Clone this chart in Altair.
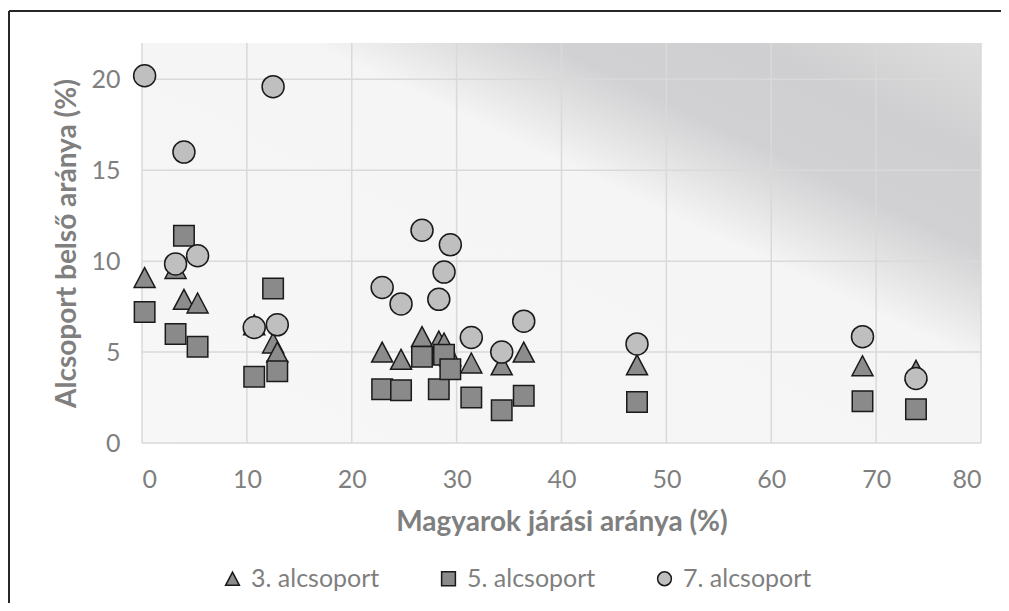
import altair as alt
import pandas as pd

# ---- data ----
x_pct = [0.25, 3.2, 4.0, 5.3, 10.7, 12.5, 12.9, 22.9, 24.7, 26.7, 28.3, 28.8,
         29.4, 31.4, 34.3, 36.4, 47.2, 68.7, 73.8]
s3 = [9.1, 9.6, 7.9, 7.7, 6.5, 5.5, 5.0, 5.0, 4.6, 5.85, 5.6, 5.5,
      4.8, 4.4, 4.3, 5.0, 4.3, 4.25, 4.0]
s5 = [7.2, 6.0, 11.4, 5.3, 3.65, 8.5, 3.95, 2.95, 2.9, 4.75, 2.95, 4.85,
      4.05, 2.5, 1.8, 2.6, 2.25, 2.3, 1.85]
s7 = [20.2, 9.85, 16.0, 10.3, 6.35, 19.6, 6.5, 8.55, 7.65, 11.7, 7.9, 9.4,
      10.9, 5.8, 5.0, 6.7, 5.45, 5.85, 3.55]
series_names = ["3. alcsoport", "5. alcsoport", "7. alcsoport"]
x_ticks = [0, 10, 20, 30, 40, 50, 60, 70, 80]
y_ticks = [0, 5, 10, 15, 20]

rows = []
for name, vals in zip(series_names, [s3, s5, s7]):
    for xv, yv in zip(x_pct, vals):
        rows.append({"x": xv, "y": yv, "s": name})
df = pd.DataFrame(rows)

W, H = 839, 400
FONT = "Lato"
GRAY = "#7f7f7f"
EDGE = "#1a1a1a"

xscale = alt.Scale(domain=[0, 80], nice=False, zero=False)
yscale = alt.Scale(domain=[0, 22], nice=False, zero=False)

xaxis = alt.Axis(values=x_ticks, grid=False, domain=False, ticks=False,
                 labelFont=FONT, labelFontSize=25, labelColor=GRAY, labelPadding=24,
                 titleFont=FONT, titleFontSize=28, titleFontWeight="bold", titleColor=GRAY,
                 titleY=79, titleBaseline="middle")
yaxis = alt.Axis(values=y_ticks, grid=False, domain=False, ticks=False,
                 labelFont=FONT, labelFontSize=25, labelColor=GRAY, labelPadding=22,
                 titleFont=FONT, titleFontSize=28, titleFontWeight="bold", titleColor=GRAY,
                 titleX=-75, titleY=H / 2, titleBaseline="middle", titleAngle=270)
XT = "Magyarok járási aránya (%)"
YT = "Alcsoport belső aránya (%)"

one = pd.DataFrame({"a": [0]})

gradient = {
    "gradient": "linear", "x1": 0, "y1": 1, "x2": 1, "y2": 0,
    "stops": [
        {"offset": 0.0, "color": "#f7f7f7"},
        {"offset": 0.6, "color": "#f5f5f5"},
        {"offset": 0.74, "color": "#d1d1d3"},
        {"offset": 0.86, "color": "#cfcfd1"},
        {"offset": 1.0, "color": "#dedede"},
    ],
}
bg = alt.Chart(one).mark_rect(color=gradient).encode(
    x=alt.value(0), x2=alt.value(W), y=alt.value(0), y2=alt.value(H))

vgrid = alt.Chart(pd.DataFrame({"x": x_ticks})).mark_rule(
    color="#d9d9d9", strokeWidth=1.5).encode(
    x=alt.X("x:Q", scale=xscale, axis=xaxis, title=XT),
    y=alt.value(0), y2=alt.value(H))
hgrid = alt.Chart(pd.DataFrame({"y": y_ticks})).mark_rule(
    color="#d9d9d9", strokeWidth=1.5).encode(
    y=alt.Y("y:Q", scale=yscale, axis=yaxis, title=YT),
    x=alt.value(0), x2=alt.value(W))

tri_path = "M0,-0.95L1,0.95L-1,0.95Z"
fills = ["#8c8c8c", "#8a8a8a", "#bfbfbf"]
shapes = [tri_path, "square", "circle"]
sizes = [441, 420, 484]

legend = alt.Legend(orient="none", legendX=78, legendY=523, direction="horizontal",
                    title=None, labelFont=FONT, labelFontSize=25, labelColor=GRAY,
                    symbolSize=190, symbolStrokeWidth=1.5, gridAlign="all",
                    columnPadding=56, labelOffset=6)

point_layers = []
for name, sz in zip(series_names, sizes):
    point_layers.append(
        alt.Chart(df).transform_filter(alt.datum.s == name).mark_point(
            filled=True, strokeWidth=1.5, opacity=1, size=sz
        ).encode(
            x=alt.X("x:Q", scale=xscale, axis=xaxis, title=XT),
            y=alt.Y("y:Q", scale=yscale, axis=yaxis, title=YT),
            fill=alt.Fill("s:N", scale=alt.Scale(domain=series_names, range=fills),
                          legend=legend),
            shape=alt.Shape("s:N", scale=alt.Scale(domain=series_names, range=shapes),
                            legend=legend),
            stroke=alt.Stroke("s:N", scale=alt.Scale(domain=series_names,
                                                     range=[EDGE, EDGE, EDGE]),
                              legend=legend),
        )
    )

frame_left = alt.Chart(one).mark_rule(color="#262626", strokeWidth=2).encode(
    x=alt.value(-133), y=alt.value(-32), y2=alt.value(H + 220))
frame_top = alt.Chart(one).mark_rule(color="#262626", strokeWidth=2).encode(
    x=alt.value(-133), x2=alt.value(W + 60), y=alt.value(-32))

chart = alt.layer(bg, vgrid, hgrid, *point_layers, frame_left, frame_top).properties(
    width=W, height=H,
    autosize=alt.AutoSizeParams(type="none"),
    padding={"left": 134, "top": 35, "right": 20, "bottom": 160},
).configure(background="white").configure_view(stroke=None)

chart.save("out.html", embed_options={"renderer": "svg", "actions": False})
